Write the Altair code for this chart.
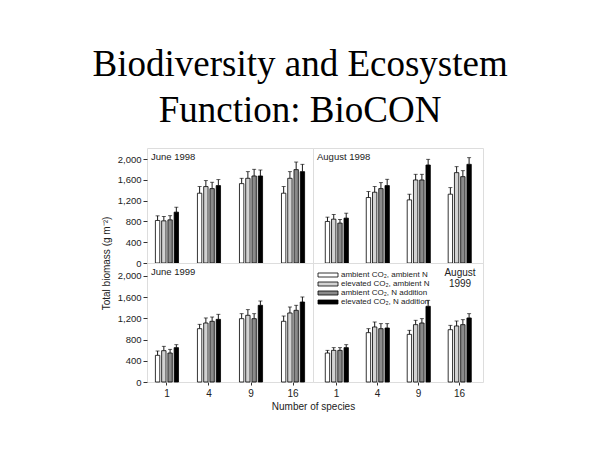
import altair as alt
import pandas as pd

species = ["1", "4", "9", "16"]
treatments = [
    "ambient CO₂, ambient N",
    "elevated CO₂, ambient N",
    "ambient CO₂, N addition",
    "elevated CO₂, N addition",
]
colors = ["#ffffff", "#d2d2d2", "#8a8a8a", "#000000"]
panels = ["June 1998", "August 1998", "June 1999", "August 1999"]
y_ticks = [0, 400, 800, 1200, 1600, 2000]

# mean biomass, one row per species richness level, one column per treatment
jun98_mean = [[818, 811, 830, 978], [1342, 1470, 1431, 1489], [1527, 1629, 1674, 1674], [1342, 1629, 1796, 1757]]
jun98_upper = [[907, 895, 910, 1073], [1470, 1585, 1553, 1604], [1629, 1757, 1802, 1789], [1470, 1757, 1942, 1898]]
aug98_mean = [[799, 843, 767, 863], [1259, 1361, 1431, 1489], [1214, 1597, 1597, 1885], [1323, 1738, 1661, 1898]]
aug98_upper = [[882, 933, 837, 958], [1374, 1470, 1546, 1610], [1323, 1706, 1706, 1994], [1450, 1853, 1776, 2026]]
jun99_mean = [[503, 591, 547, 648], [1006, 1113, 1145, 1182], [1195, 1258, 1195, 1447], [1145, 1302, 1352, 1509]]
jun99_upper = [[585, 673, 616, 704], [1088, 1208, 1226, 1277], [1289, 1365, 1289, 1528], [1245, 1415, 1447, 1604]]
aug99_mean = [[547, 597, 597, 648], [931, 1038, 1006, 1019], [899, 1082, 1113, 1428], [987, 1057, 1082, 1208]]
aug99_upper = [[597, 648, 648, 704], [1006, 1132, 1101, 1101], [975, 1164, 1195, 1541], [1069, 1151, 1176, 1289]]

FONT = "Liberation Sans"


def make_df(mean, upper):
    rows = []
    for i, s in enumerate(species):
        for j, t in enumerate(treatments):
            rows.append({"species": s, "treatment": t, "mean": mean[i][j], "upper": upper[i][j]})
    return pd.DataFrame(rows)


def panel(name, mean, upper, width, height, ymax, left, bottom, legend, label_right=False):
    df = make_df(mean, upper)
    if bottom:
        xaxis = alt.Axis(
            labelFont=FONT, labelFontSize=10, labelColor="#222", labelAngle=0,
            tickSize=3, tickColor="#333", domain=False, labelPadding=3,
            title="Number of species" if left else None,
            titleFont=FONT, titleFontSize=10, titleFontWeight="normal", titleColor="#222",
            titleX=width, titleAlign="center", titlePadding=3,
        )
    else:
        xaxis = None
    if left:
        yaxis = alt.Axis(
            values=y_ticks, format=",d", labelFont=FONT, labelFontSize=9.5, labelColor="#222",
            tickSize=4, tickColor="#333", domain=False, grid=False, labelPadding=2,
            title=None if bottom else "Total biomass (g m⁻²)",
            titleFont=FONT, titleFontSize=10, titleFontWeight="normal", titleColor="#222",
            titleY=height, titlePadding=6,
        )
    else:
        yaxis = None
    po = 0.2 if left else 0.3
    base = alt.Chart(df).encode(
        x=alt.X("species:N", sort=species, axis=xaxis,
                scale=alt.Scale(paddingInner=0.45, paddingOuter=po)),
        xOffset=alt.XOffset("treatment:N", sort=treatments,
                            scale=alt.Scale(paddingInner=0.3, paddingOuter=0)),
    )
    yscale = alt.Scale(domain=[0, ymax], nice=False)
    err = base.mark_rule(color="black", strokeWidth=0.9).encode(
        y=alt.Y("mean:Q", scale=yscale, axis=yaxis), y2="upper:Q")
    cap = base.mark_tick(color="black", thickness=0.9, size=4, orient="horizontal").encode(
        y=alt.Y("upper:Q", scale=yscale, axis=yaxis))
    bars = base.mark_bar(stroke="black", strokeWidth=0.8).encode(
        y=alt.Y("mean:Q", scale=yscale, axis=yaxis),
        fill=alt.Fill("treatment:N", sort=treatments,
                      scale=alt.Scale(domain=treatments, range=colors), legend=legend),
    )
    if label_right:
        words = name.split(" ")
        lab = alt.Chart(pd.DataFrame({"t": [words]})).mark_text(
            font=FONT, fontSize=10, color="#222", align="center", baseline="top",
            lineHeight=11,
        ).encode(text="t", x=alt.value(width - 23), y=alt.value(5))
    else:
        lab = alt.Chart(pd.DataFrame({"t": [name]})).mark_text(
            font=FONT, fontSize=9.5, color="#222", align="left", baseline="top",
        ).encode(text="t:N", x=alt.value(4), y=alt.value(4))
    return alt.layer(err, bars, cap, lab).properties(width=width, height=height)


legend = alt.Legend(
    title=None, orient="none", legendX=3, legendY=8, padding=0, rowPadding=1,
    labelFont=FONT, labelFontSize=8, labelColor="#222", labelOffset=9,
    symbolType="M-5,-1H5V1H-5Z", symbolSize=16, symbolOffset=8,
    symbolStrokeColor="black", symbolStrokeWidth=0.8, symbolOpacity=1,
)

p1 = panel(panels[0], jun98_mean, jun98_upper, 166, 115, 2212, True, False, None)
p2 = panel(panels[1], aug98_mean, aug98_upper, 170, 115, 2212, False, False, None)
p3 = panel(panels[2], jun99_mean, jun99_upper, 166, 119, 2245, True, True, None)
p4 = panel(panels[3], aug99_mean, aug99_upper, 170, 119, 2245, False, True, legend, label_right=True)

chart = alt.concat(p1, p2, p3, p4, columns=2, spacing=0, bounds="flush").resolve_legend(
    fill="independent"
).properties(
    title=alt.TitleParams(
        ["Biodiversity and Ecosystem", "Function: BioCON"],
        font="Liberation Serif", fontSize=37, fontWeight="normal", color="black",
        lineHeight=46, anchor="middle", offset=18, dx=8,
    ),
    padding={"left": 84, "top": 37, "right": 10, "bottom": 10},
).configure_view(
    stroke="#222", strokeWidth=1
).configure(background="white")

chart.save("out.html", embed_options={"renderer": "svg", "actions": False})
